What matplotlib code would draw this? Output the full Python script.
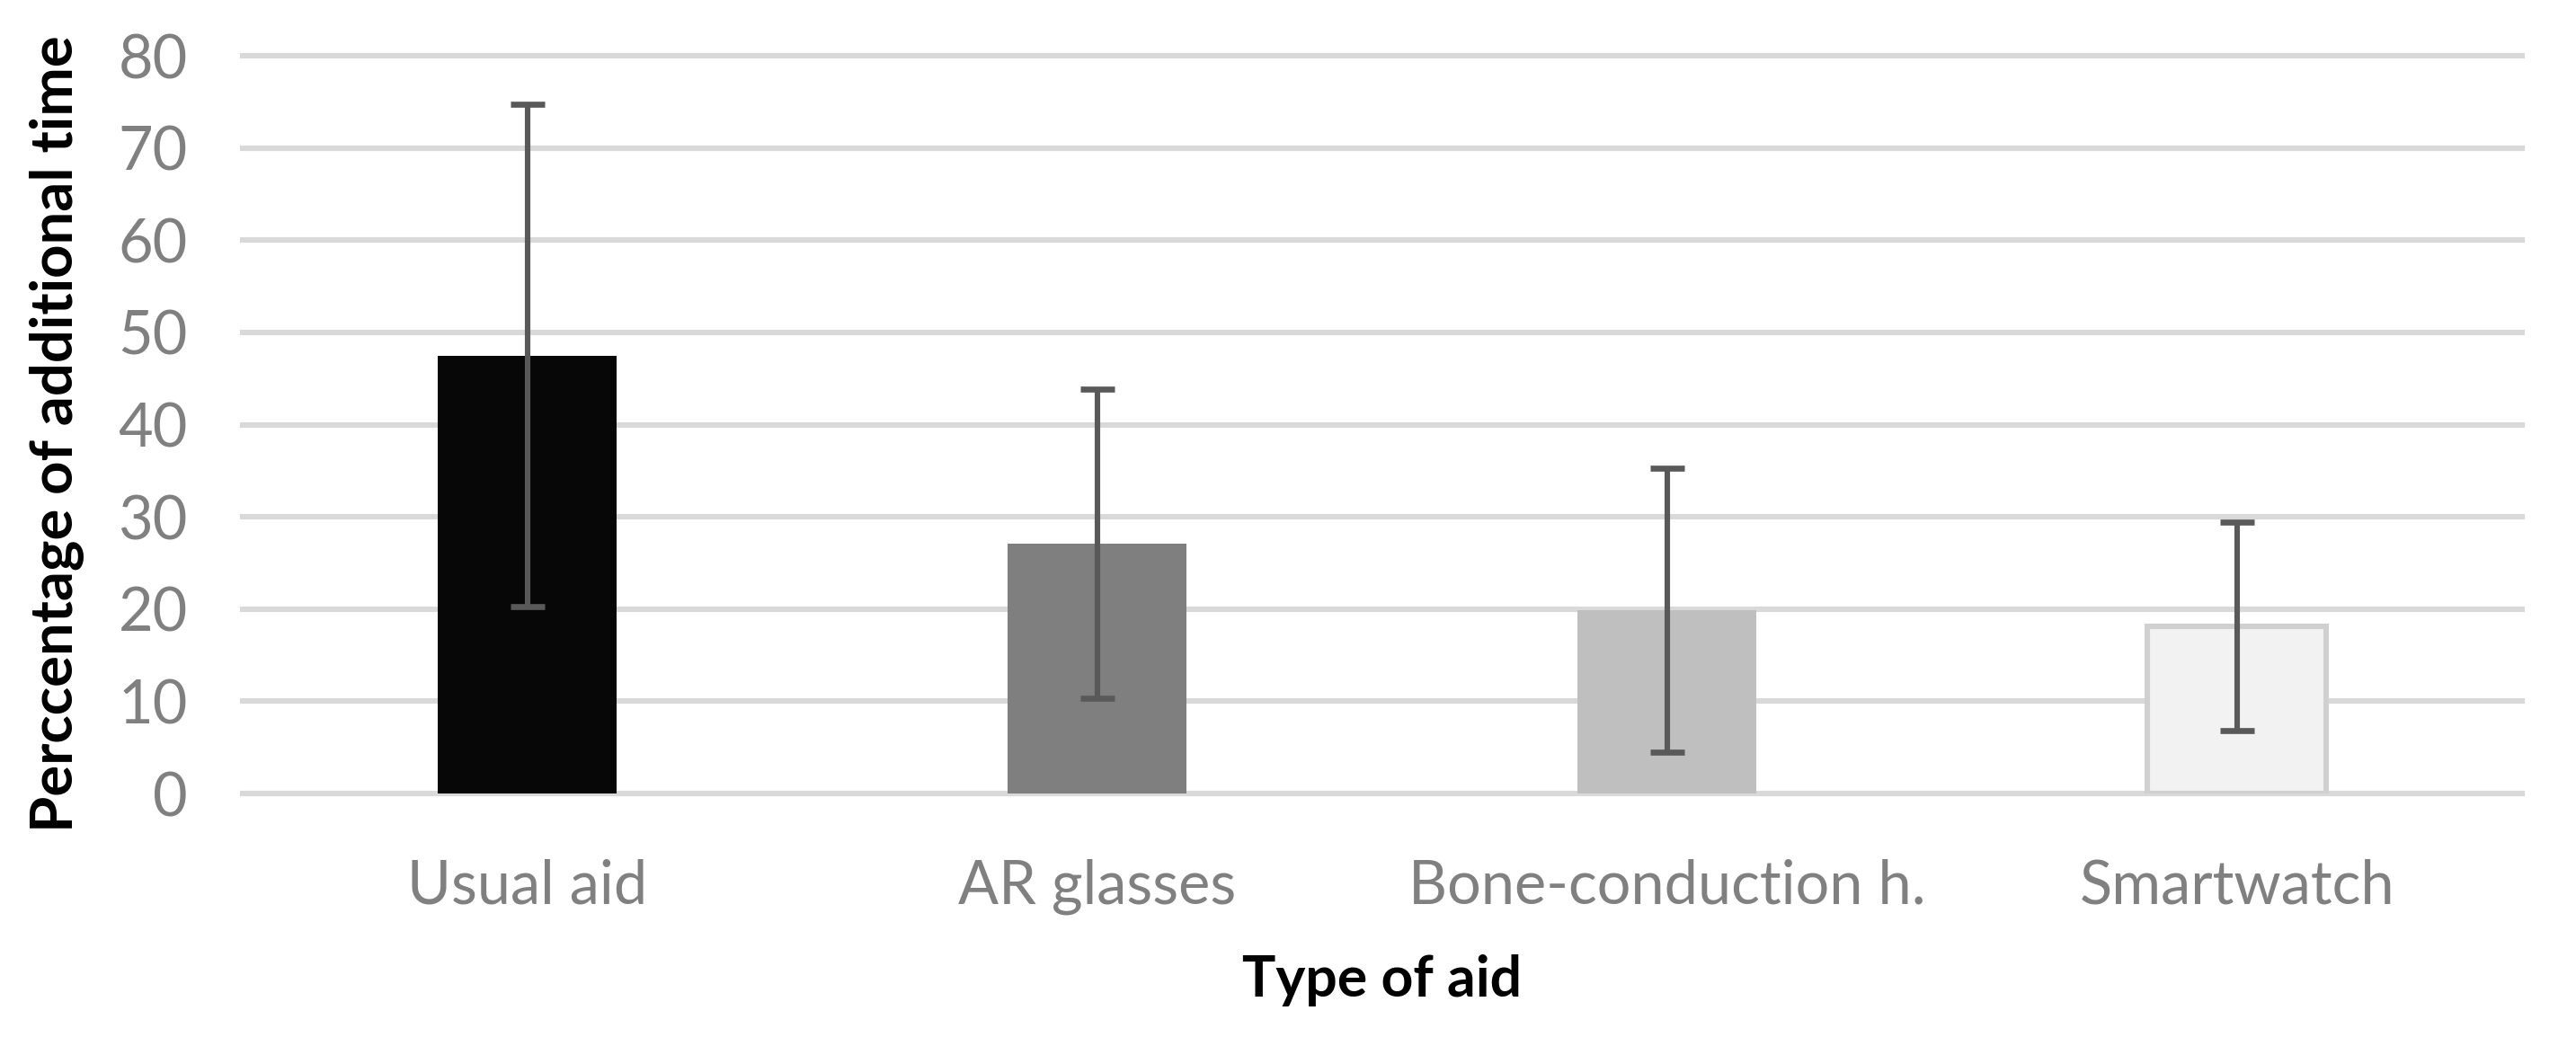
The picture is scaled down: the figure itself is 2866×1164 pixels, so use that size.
import numpy as np
import matplotlib
matplotlib.use("Agg")
import matplotlib.pyplot as plt

# Data
aids = ["Usual aid", "AR glasses", "Bone-conduction h.", "Smartwatch"]
mean_time = [47.5, 27.1, 19.9, 18.1]
sd_time = [27.2, 16.8, 15.4, 11.3]
y_ticks = [0, 10, 20, 30, 40, 50, 60, 70, 80]

bar_colors = ["#070707", "#7f7f7f", "#bfbfbf", "#f2f2f2"]
edge_colors = ["#070707", "#7f7f7f", "#bfbfbf", "#d0d0d0"]

plt.rcParams['font.family'] = ['Lato', 'DejaVu Sans']

fig = plt.figure(figsize=(14.33, 5.82), dpi=200)
ax = fig.add_axes([0.0942, 0.2414, 0.8848, 0.7053])

x = np.arange(len(aids))

# gridlines behind everything
for t in y_ticks:
    ax.axhline(t, color="#d9d9d9", lw=2.2, zorder=0, clip_on=False)

ax.bar(x, mean_time, width=0.314, color=bar_colors, edgecolor=edge_colors,
       linewidth=[0, 0, 0, 2.2], zorder=2)
ax.errorbar(x, mean_time, yerr=sd_time, fmt="none", ecolor="#595959",
            elinewidth=2.2, capsize=6.7, capthick=2.4, zorder=3)

ax.set_xlim(-0.5, 3.5)
ax.set_ylim(0, 80)
ax.set_xticks(x)
ax.set_xticklabels(aids)
ax.set_yticks(y_ticks)
ax.tick_params(axis="both", length=0, labelsize=24, labelcolor="#808080")
ax.tick_params(axis="y", pad=22)
ax.tick_params(axis="x", pad=26)

for s in ax.spines.values():
    s.set_visible(False)

fig.text(0.0223, 0.585, "Perccentage of additional time", rotation=90,
         ha="center", va="center", fontsize=23.5, fontweight="bold", color="black")
fig.text(0.5366, 0.0628, "Type of aid", ha="center", va="center",
         fontsize=22.5, fontweight="bold", color="black")

fig.savefig("out.png", dpi=200)
